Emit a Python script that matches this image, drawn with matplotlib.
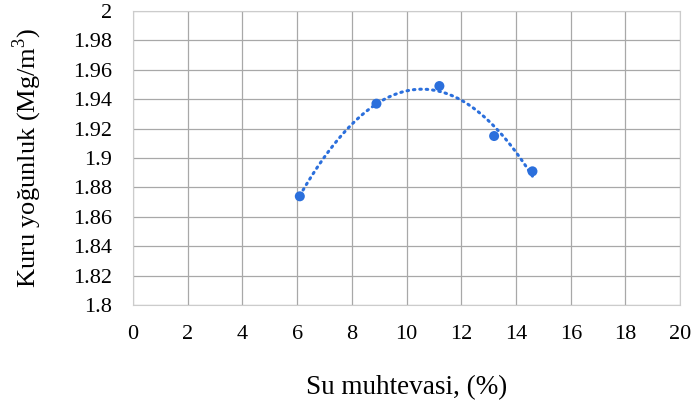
import numpy as np
import matplotlib.pyplot as plt

# compaction test: water content vs dry density
water = [6.1, 8.9, 11.2, 13.2, 14.6]
density = [1.874, 1.937, 1.949, 1.915, 1.891]

x_ticks = list(range(0, 21, 2))
y_ticks = [1.8, 1.82, 1.84, 1.86, 1.88, 1.9, 1.92, 1.94, 1.96, 1.98, 2.0]
y_labels = ['1.8', '1.82', '1.84', '1.86', '1.88', '1.9', '1.92', '1.94', '1.96', '1.98', '2']

plt.rcParams['font.family'] = ['Liberation Serif', 'DejaVu Serif']
plt.rcParams['mathtext.fontset'] = 'custom'
plt.rcParams['mathtext.rm'] = 'Liberation Serif'
blue = '#2B6FDC'

fig = plt.figure(figsize=(6.92, 4.09), dpi=100)
ax = fig.add_axes([0.192, 0.254, 0.791, 0.719])

# 2nd order trendline
coef = np.polyfit(water, density, 2)
xs = np.linspace(min(water), max(water), 200)
ax.plot(xs, np.polyval(coef, xs), color=blue, lw=2.2, ls=(0, (0.5, 1.6)),
        dash_capstyle='round', zorder=3)
ax.scatter(water, density, s=52, color=blue, zorder=4, edgecolors='none')

ax.set_xlim(0, 20)
ax.set_ylim(1.8, 2.0)
ax.set_xticks(x_ticks)
ax.set_yticks(y_ticks)
ax.set_yticklabels(y_labels)
ax.grid(True, color='#a8a8a8', lw=0.9)
ax.set_axisbelow(True)
for s in ax.spines.values():
    s.set_color('#cccccc')
ax.tick_params(length=0, labelsize=16)
ax.tick_params(axis='y', pad=15)
ax.tick_params(axis='x', pad=14)

ax.set_xlabel('Su muhtevasi, (%)', fontsize=19.5, labelpad=23)
ax.set_ylabel('Kuru yoğunluk (Mg/m$^{\\rm 3}$)', fontsize=19, labelpad=21)

fig.savefig('out.png', dpi=100)
